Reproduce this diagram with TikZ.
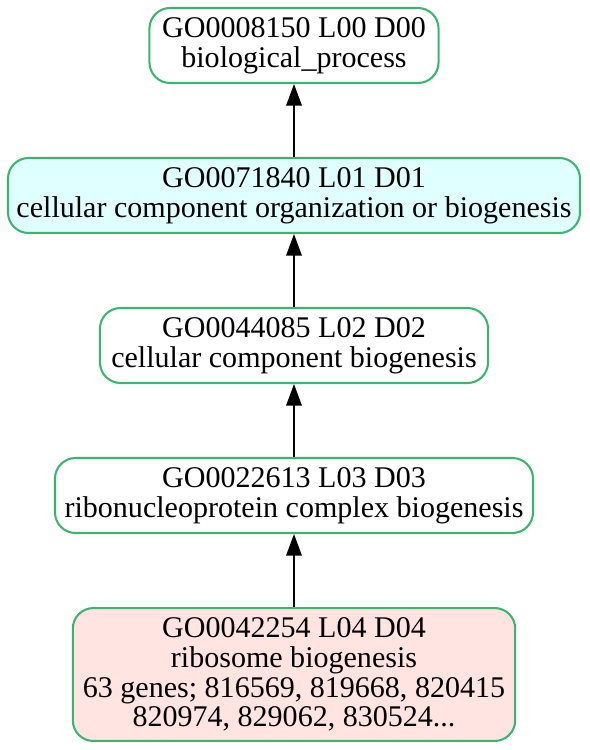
\documentclass[tikz,border=0pt]{standalone}
\usepackage{fontspec}
\setmainfont{Liberation Serif}
\usetikzlibrary{arrows.meta}
\definecolor{goborder}{HTML}{3CB371}
\definecolor{gocyan}{HTML}{E0FFFF}
\definecolor{gorose}{HTML}{FFE4E1}
\begin{document}
\begin{tikzpicture}[x=0.486pt,y=-0.486pt,
  gonode/.style={draw=goborder, line width=1pt, rounded corners=10pt, fill=white,
    align=center, inner sep=0pt, minimum height=36.45pt,
    font=\fontsize{14.6}{14.4}\selectfont},
  goedge/.style={draw=black, line width=1pt, -{Triangle[length=10.5pt,width=7.5pt]}}]
\useasboundingbox (0,0) rectangle (589,750);
\node[gonode, minimum width=140.5pt] (n1) at (294,45.5) {GO0008150 L00 D00\\biological\_process};
\node[gonode, fill=gocyan, minimum width=278pt] (n2) at (294,195.5) {GO0071840 L01 D01\\cellular component organization or biogenesis};
\node[gonode, minimum width=188.6pt] (n3) at (294,345.5) {GO0044085 L02 D02\\cellular component biogenesis};
\node[gonode, minimum width=232.3pt] (n4) at (294,495.5) {GO0022613 L03 D03\\ribonucleoprotein complex biogenesis};
\node[gonode, fill=gorose, minimum width=215pt, minimum height=64.6pt] (n5) at (294,674.5) {GO0042254 L04 D04\\ribosome biogenesis\\63 genes; 816569, 819668, 820415\\820974, 829062, 830524...};
\draw[goedge] (n2) -- (n1);
\draw[goedge] (n3) -- (n2);
\draw[goedge] (n4) -- (n3);
\draw[goedge] (n5) -- (n4);
\end{tikzpicture}
\end{document}
